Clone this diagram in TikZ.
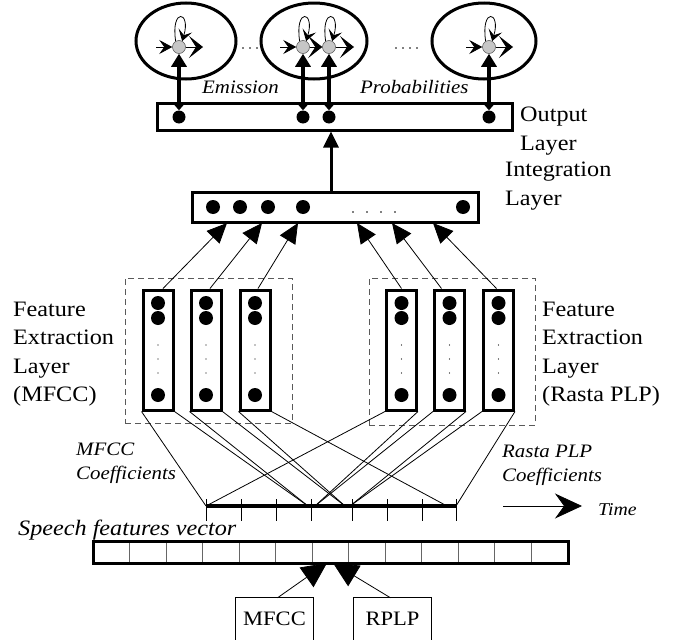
\documentclass[tikz,border=0pt]{standalone}
\usepackage{fontspec}
\setmainfont{Liberation Serif}[FakeStretch=1.1]
\usetikzlibrary{arrows.meta,shapes.geometric,calc}
\begin{document}
\begin{tikzpicture}[x=1pt,y=-1pt,
  hmm/.style={ellipse, draw, line width=3pt, inner sep=0pt, minimum width=#1, minimum height=76pt},
  hstate/.style={circle, fill=gray!45, draw=gray!60!black, line width=0.5pt, inner sep=0pt, minimum size=13pt},
  bdot/.style={circle, fill=black, inner sep=0pt, minimum size=14pt},
  sdot/.style={circle, fill=black, inner sep=0pt, minimum size=1.6pt},
  layerbox/.style={draw, line width=3pt, inner sep=0pt, minimum width=#1},
  colbox/.style={draw, line width=3pt, inner sep=0pt, minimum width=30pt, minimum height=120pt},
  dashbox/.style={draw=black!65, dash pattern=on 6pt off 4pt, line width=0.9pt, inner sep=0pt},
  lab/.style={font=\fontsize{22}{28.3}\selectfont, align=left, inner sep=0pt, anchor=north west},
  itl/.style={font=\fontsize{19}{23.5}\selectfont\itshape, align=left, inner sep=0pt},
  thin/.style={line width=0.8pt},
  inarr/.style={thin, -{Stealth[length=13pt,width=14pt,inset=5pt]}},
  outarr/.style={thin, -{Stealth[length=14pt,width=22pt,inset=7pt]}},
  looparr/.style={thin, -{Stealth[length=11pt,width=14pt,inset=5pt]}},
  emarr/.style={line width=4pt, {Triangle[length=13pt,width=15pt]}-{Triangle[length=6pt,width=10pt]}},
  uparr/.style={line width=3pt, -{Triangle[length=16pt,width=15pt]}},
  featarr/.style={thin, -{Triangle[length=20pt,width=18pt]}},
  bigarr/.style={thin, -{Triangle[length=25pt,width=24pt]}},
  tick/.style={line width=0.9pt}
]
\useasboundingbox (0,0) rectangle (673,640);

% ---------- HMM ellipses ----------
\node[hmm=100pt] (e1) at (186,41) {};
\node[hmm=106pt] (e2) at (314,41) {};
\node[hmm=104pt] (e3) at (484,41) {};

\node[hstate] (s1) at (179,47) {};
\node[hstate] (s2) at (303,47) {};
\node[hstate] (s3) at (329,47) {};
\node[hstate] (s4) at (489,47) {};

\coordinate (i1) at (156,47);
\coordinate (i2) at (280,47);
\coordinate (i4) at (466,47);
\coordinate (u1) at (203,47);
\coordinate (u3) at (354,47);
\coordinate (u4) at (513,47);

\draw[inarr] (i1) -- (s1);
\draw[inarr] (i2) -- (s2);
\draw[inarr] (i4) -- (s4);
\draw[outarr] (s1) -- (u1);
\draw[outarr] (s2) -- (s3);
\draw[outarr] (s3) -- (u3);
\draw[outarr] (s4) -- (u4);

\foreach \s in {s1,s2,s3,s4}{
  \draw[looparr] (\s.120) .. controls +(-5,-34) and +(9,-30) .. (\s.62);
}

\foreach \x in {243,250,257}{ \node[sdot] at (\x,48) {}; }
\foreach \x in {396,403,410,417}{ \node[sdot] at (\x,48) {}; }

\node[itl, anchor=base west] (em) at (202,93) {Emission};
\node[itl, anchor=base west] (pr) at (360,93) {Probabilities};

% ---------- Output layer ----------
\node[layerbox=355pt, minimum height=27pt] (out) at (334.5,116.5) {};
\node[bdot, minimum size=13pt] (o1) at (179,117) {};
\node[bdot, minimum size=13pt] (o2) at (303,117) {};
\node[bdot, minimum size=13pt] (o3) at (329,117) {};
\node[bdot, minimum size=13pt] (o4) at (489,117) {};
\draw[emarr] (s1.south) -- (o1.north);
\draw[emarr] (s2.south) -- (o2.north);
\draw[emarr] (s3.south) -- (o3.north);
\draw[emarr] (s4.south) -- (o4.north);
\node[lab] (outlab) at (520,107) {Output\\Layer};

% ---------- Integration layer ----------
\node[layerbox=286pt, minimum height=30pt] (integ) at (335,207) {};
\node[bdot] (g1) at (213,207) {};
\node[bdot] (g2) at (240,207) {};
\node[bdot] (g3) at (268,207) {};
\node[bdot] (g4) at (303,207) {};
\node[bdot] (g5) at (463,207) {};
\foreach \x in {353,367,381,395}{ \node[sdot] at (\x,212) {}; }
\node[lab] (intlab) at (505,162) {Integration\\Layer};
\draw[uparr] (integ.north -| 331,0) -- (out.south -| 331,0);

% ---------- Feature extraction columns ----------
\node[dashbox, minimum width=167pt, minimum height=145pt] (mbox) at (208.5,350.5) {};
\node[dashbox, minimum width=166pt, minimum height=147pt] (rbox) at (452,351.5) {};

\foreach \n/\x in {m1/158,m2/206,m3/255,r1/401.5,r2/449.5,r3/498.5}{
  \node[colbox] (\n) at (\x,350) {};
  \node[bdot] at (\x,303) {};
  \node[bdot] at (\x,318) {};
  \node[bdot] at (\x,395) {};
  \node[sdot, minimum size=1.3pt] at (\x,345) {};
  \node[sdot, minimum size=1.3pt] at (\x,359) {};
  \node[sdot, minimum size=1.3pt] at (\x,373) {};
}

\node[lab] (mlab) at (13,302) {Feature\\Extraction\\Layer\\(MFCC)};
\node[lab] (rlab) at (542,302) {Feature\\Extraction\\Layer\\(Rasta PLP)};

% arrows into integration layer
\coordinate (t1) at (227,223);
\coordinate (t2) at (262,223);
\coordinate (t3) at (298,223);
\coordinate (t4) at (357,223);
\coordinate (t5) at (392,223);
\coordinate (t6) at (433,223);
\draw[featarr] ($(m1.north)+(5,0)$) -- (t1);
\draw[featarr] ($(m2.north)+(4,0)$) -- (t2);
\draw[featarr] ($(m3.north)+(3,0)$) -- (t3);
\draw[featarr] ($(r1.north)+(0,0)$) -- (t4);
\draw[featarr] ($(r2.north)+(-8,0)$) -- (t5);
\draw[featarr] ($(r3.north)+(-2,0)$) -- (t6);

% ---------- time axis ----------
\coordinate (a0) at (206,506);
\coordinate (aM1) at (308,506);
\coordinate (aM2) at (345,506);
\coordinate (aM3) at (447,506);
\coordinate (aR1) at (315,506);
\coordinate (aR2) at (350,506);
\coordinate (a1) at (456,506);

\draw[thin] (m1.south west) -- (a0);
\draw[thin] (m1.south east) -- (aM1);
\draw[thin] (m2.south west) -- (aM1);
\draw[thin] (m2.south east) -- (aM2);
\draw[thin] (m3.south west) -- (aM2);
\draw[thin] (m3.south east) -- (aM3);
\draw[thin] (r1.south west) -- (a0);
\draw[thin] (r1.south east) -- (aR1);
\draw[thin] (r2.south west) -- (aR1);
\draw[thin] (r2.south east) -- (aR2);
\draw[thin] (r3.south west) -- (aR2);
\draw[thin] (r3.south east) -- (a1);

\draw[line width=4pt] (a0) -- (a1);
\foreach \x in {206,241,276,311,352,387,422,456}{
  \draw[tick] (\x,499) -- (\x,521);
}

\node[itl, anchor=north west] (mcl) at (76,443) {MFCC\\Coefficients};
\node[itl, anchor=north west] (rcl) at (502,445) {Rasta PLP\\Coefficients};

\coordinate (ts) at (503,506);
\coordinate (te) at (582,506);
\draw[thin, -{Stealth[length=27pt,width=25pt,inset=9pt]}] (ts) -- (te);
\node[inner sep=0pt, anchor=base west, font=\fontsize{18}{20}\selectfont\itshape] (time) at (598,515) {Time};

% ---------- speech features vector ----------
\node[inner sep=0pt, anchor=base west, font=\fontsize{22}{25}\selectfont\itshape] (sfv) at (18,535) {Speech features vector};
\foreach \i in {1,...,12}{
  \draw[black!60, line width=0.9pt] (93+\i*36.54,541) -- (93+\i*36.54,563);
}
\node[layerbox=475pt, minimum height=22pt] (sv) at (330.5,552) {};

% ---------- input boxes ----------
\node[inner sep=0pt, minimum width=77pt, minimum height=42pt, font=\fontsize{20.5}{24}\selectfont] (mfcc) at (274.5,619) {MFCC};
\node[inner sep=0pt, minimum width=77pt, minimum height=42pt, font=\fontsize{20.5}{24}\selectfont] (rplp) at (392.5,619) {RPLP};
\draw[thin] (mfcc.south west) |- (mfcc.north east) -- (mfcc.south east);
\draw[thin] (rplp.south west) |- (rplp.north east) -- (rplp.south east);
\coordinate (v1) at (327,563);
\coordinate (v2) at (333,563);
\draw[bigarr] ($(mfcc.north)+(3,0)$) -- (v1);
\draw[bigarr] ($(rplp.north)+(-2,0)$) -- (v2);

\end{tikzpicture}
\end{document}
